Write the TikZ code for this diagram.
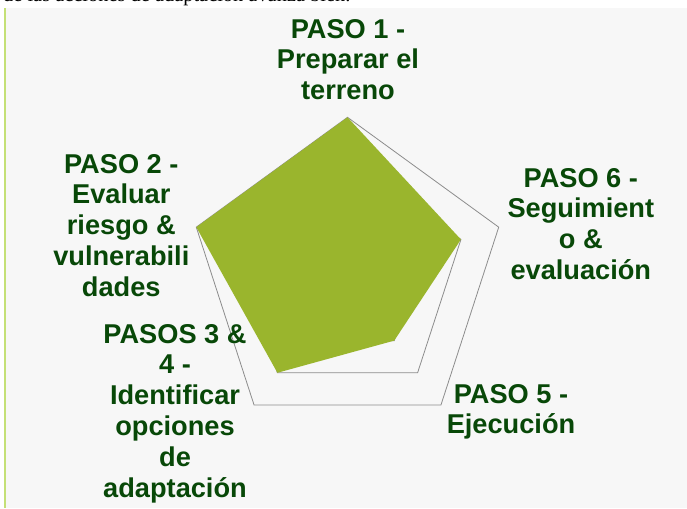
\documentclass[tikz,border=0pt]{standalone}
\usepackage{fontspec}
\setmainfont{Liberation Sans}
\newfontfamily\serifnote{Liberation Serif}
\definecolor{panelbg}{RGB}{247,247,247}
\definecolor{edgegreen}{RGB}{196,224,118}
\definecolor{labelgreen}{RGB}{8,72,8}
\definecolor{areagreen}{RGB}{154,181,45}
\definecolor{gridgray}{RGB}{140,140,140}
\tikzset{
  steplabel/.style={anchor=north, inner sep=0pt, align=center, text=labelgreen,
    font=\fontsize{27.2}{30.8}\selectfont\bfseries},
  ring/.style={draw=gridgray, line width=0.8pt, line join=miter},
  area/.style={fill=areagreen, draw=none}
}
\begin{document}
\begin{tikzpicture}[x=1pt,y=-1pt]
\useasboundingbox (0,0) rectangle (687,508);
\fill[white] (0,0) rectangle (687,508);
\begin{scope}
\clip (0,0) rectangle (687,508);
\node[anchor=base west, inner sep=0pt, font=\serifnote\fontsize{20.4}{24}\selectfont] (top) at (3,2) {de las acciones de adaptación avanza bien.};
\end{scope}
\fill[panelbg] (4,8) rectangle (687,508);
\fill[edgegreen] (4,8) rectangle (6,508);
\begin{scope}[shift={(347.5,276.3)}]
  \foreach \f in {0.25,0.5,0.75,1} {
    \draw[ring] ({159*\f*sin(0)},{-159*\f*cos(0)})
      -- ({159*\f*sin(72)},{-159*\f*cos(72)})
      -- ({159*\f*sin(144)},{-159*\f*cos(144)})
      -- ({159*\f*sin(216)},{-159*\f*cos(216)})
      -- ({159*\f*sin(288)},{-159*\f*cos(288)}) -- cycle;
  }
  \fill[area] ({159*1*sin(0)},{-159*1*cos(0)})
      -- ({159*0.75*sin(72)},{-159*0.75*cos(72)})
      -- ({159*0.5*sin(144)},{-159*0.5*cos(144)})
      -- ({159*0.75*sin(216)},{-159*0.75*cos(216)})
      -- ({159*1*sin(288)},{-159*1*cos(288)}) -- cycle;
\end{scope}
\node[steplabel] (l1) at (348,18.9) {PASO 1 -\\Preparar el\\terreno};
\node[steplabel] (l2) at (121.3,153.9) {PASO 2 -\\Evaluar\\riesgo \&\\vulnerabili\\dades};
\node[steplabel] (l6) at (580.8,167.9) {PASO 6 -\\Seguimient\\o \&\\evaluación};
\node[steplabel] (l34) at (175,323.9) {PASOS 3 \&\\4 -\\Identificar\\opciones\\de\\adaptación};
\node[steplabel] (l5) at (511,383.9) {PASO 5 -\\Ejecución};
\end{tikzpicture}
\end{document}
